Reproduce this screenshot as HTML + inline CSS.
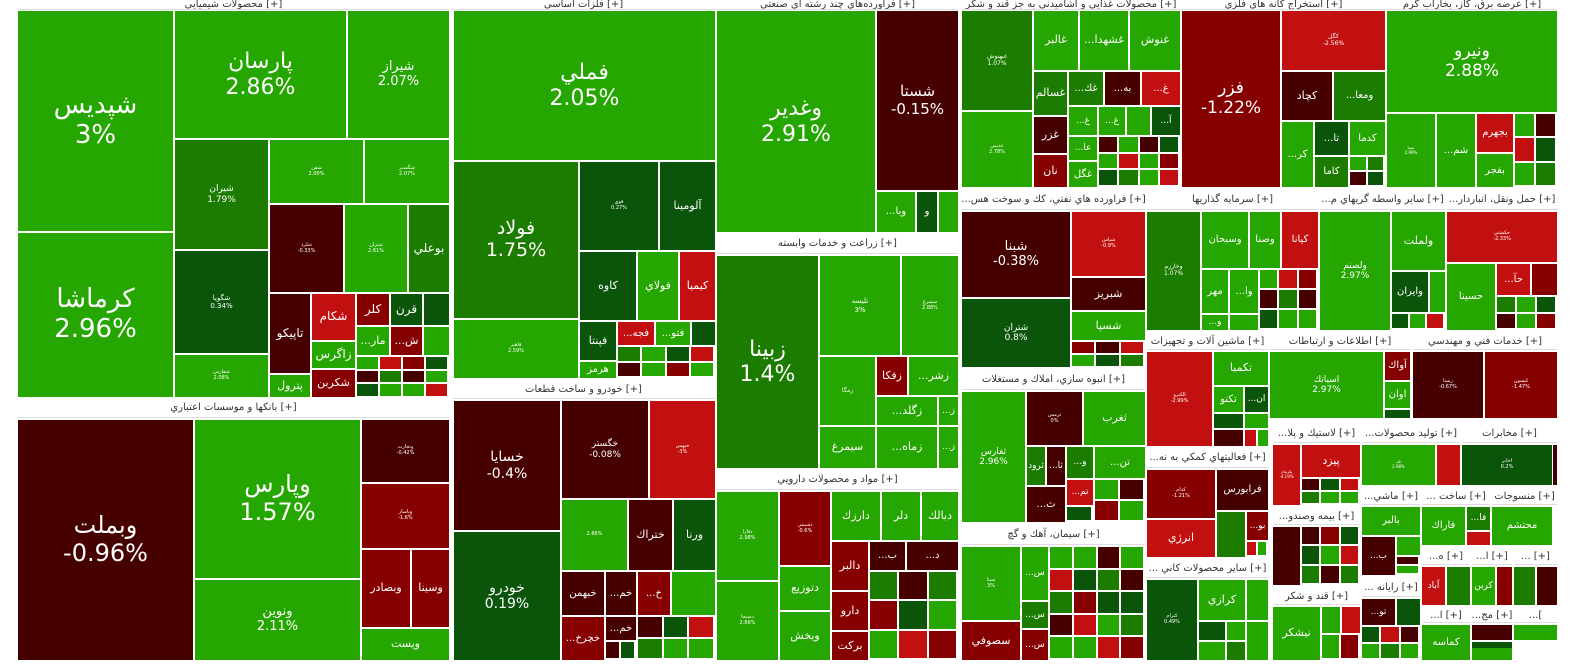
<!DOCTYPE html>
<html><head><meta charset="utf-8">
<style>
html,body{margin:0;padding:0;background:#fff;}
#m{position:relative;width:1577px;height:671px;overflow:hidden;background:#fff;font-family:"DejaVu Sans","Noto Sans CJK SC",sans-serif;}
.t{position:absolute;box-sizing:border-box;color:#fff;display:flex;flex-direction:column;align-items:center;justify-content:center;text-align:center;overflow:hidden;line-height:1.15;white-space:nowrap;}
.h{position:absolute;box-sizing:border-box;background:#fff;color:#333;font-size:10px;display:flex;align-items:center;justify-content:center;overflow:hidden;white-space:nowrap;border-bottom:1px solid #ddd;}
</style></head><body><div id="m"></div>
<script>
var C={G:'#25a600',M:'#1c7c00',D:'#0b550b',K:'#470000',r:'#860000',R:'#c20f0f',L:'#3ee000'};
var m=document.getElementById('m'),H='';
function t(x1,y1,x2,y2,c,l,p,fs){fs=fs||0;var s='<div class="t" style="left:'+x1+'px;top:'+y1+'px;width:'+(x2-x1)+'px;height:'+(y2-y1)+'px;background:'+C[c]+';font-size:'+fs+'px">';if(l)s+='<div>'+l+'</div>';if(p)s+='<div>'+p+'</div>';H+=s+'</div>';}
function h(x1,y1,x2,y2,l){H+='<div class="h" style="left:'+x1+'px;top:'+y1+'px;width:'+(x2-x1)+'px;height:'+(y2-y1)+'px">'+l+'</div>';}
var seq='GKDRMGrKGDGRMKGGDrRGKMDGRGKDMr';var si=0;
function f(x1,y1,x2,y2,cols,rows){var w=(x2-x1)/cols,hh=(y2-y1)/rows;for(var i=0;i<cols;i++)for(var j=0;j<rows;j++){var c=seq[si++%seq.length];t(Math.round(x1+i*w),Math.round(y1+j*hh),Math.round(x1+(i+1)*w)-2,Math.round(y1+(j+1)*hh)-2,c);}}
// headers top
h(18,0,449,10,'محصولات شيميايي [+]');h(452,0,715,10,'فلزات اساسي [+]');h(717,0,958,10,'فرآورده‌هاي چند رشته اي صنعتي [+]');
h(962,0,1180,10,'محصولات غذايي و آشاميدني به جز قند و شكر [+]');h(1182,0,1385,10,'استخراج كانه هاي فلزي [+]');h(1387,0,1557,10,'عرضه برق، گاز، بخاراب گرم [+]');
// chemicals
t(18,11,173,231,'G','شپديس','3%',26);t(18,233,173,397,'G','كرماشا','2.96%',26);
t(175,11,346,138,'G','پارسان','2.86%',22);t(348,11,449,138,'G','شيراز','2.07%',13);
t(175,140,268,249,'M','شيران','1.79%',9);t(175,251,268,353,'D','شگويا','0.34%',7);t(175,355,268,397,'G','شفارس','2.08%',5);
t(270,140,363,203,'G','شفن','2.00%',5);t(365,140,449,203,'G','شگستر','2.07%',5);
t(270,205,343,292,'K','شلرد','-0.33%',5);t(345,205,407,292,'G','شتران','2.61%',5);t(409,205,449,292,'M','بوعلي','',12);
t(270,294,310,373,'K','تاپيكو','',12);t(312,294,355,340,'R','شكام','',12);t(357,294,389,325,'r','كلر','',12);t(391,294,422,325,'D','قرن','',12);t(424,294,449,325,'D');
t(270,375,310,397,'G','پترول','',11);t(312,342,355,368,'G','زاگرس','',12);t(312,370,355,397,'r','شكربن','',11);
t(357,327,389,355,'G','...مار','',11);t(391,327,422,355,'r','...ش','',11);t(424,327,449,355,'G');
f(357,357,449,398,4,3);
h(18,398,449,418,'بانكها و موسسات اعتباري [+]');
t(18,420,193,660,'K','وبملت','-0.96%',24);t(195,420,360,578,'G','وپارس','1.57%',24);t(195,580,360,660,'G','ونوين','2.11%',13);
t(362,420,449,482,'K','وتجارت','-0.42%',5);t(362,484,449,548,'r','وپاسار','-1.6%',5);t(362,550,410,627,'r','وبصادر','',11);t(412,550,449,627,'r','وسينا','',11);t(362,629,449,660,'G','ويست','',11);
// metals
t(454,11,715,160,'G','فملي','2.05%',22);t(454,162,578,318,'M','فولاد','1.75%',19);t(454,320,578,378,'G','فاهنر','2.59%',5);
t(580,162,658,250,'D','فوي','0.27%',5);t(660,162,715,250,'D','آلومينا','',11);
t(580,252,636,320,'D','كاوه','',11);t(638,252,678,320,'G','فولاي','',11);t(680,252,715,320,'R','كيميا','',11);
t(580,322,616,360,'D','فپنتا','',11);t(618,322,654,345,'R','...فجه','',10);t(656,322,690,345,'G','...فتو','',10);t(692,322,715,345,'D');
t(580,362,616,378,'G','هرمز','',10);f(618,347,715,378,4,2);
h(452,380,715,399,'خودرو و ساخت قطعات [+]');
t(454,401,560,530,'K','خسايا','-0.4%',14);t(454,532,560,660,'D','خودرو','0.19%',14);
t(562,401,648,498,'K','خگستر','-0.08%',9);t(650,401,715,498,'R','خبهمن','-3%',5);
t(562,500,627,570,'G','','2.66%',5);t(629,500,672,570,'K','ختراك','',11);t(674,500,715,570,'D','ورنا','',11);
t(562,572,604,615,'K','خبهمن','',10);t(606,572,636,615,'K','...خم','',10);t(638,572,670,615,'r','...خ','',10);t(672,572,715,615,'G');
t(562,617,604,660,'r','...خچرخ','',10);t(606,617,636,640,'K','...خم','',10);f(638,617,715,660,3,2);f(606,642,636,660,2,1);
// col3
t(717,11,875,232,'G','وغدير','2.91%',22);t(877,11,958,190,'K','شستا','-0.15%',15);
t(877,192,915,232,'G','...وبا','',10);t(917,192,937,232,'D','و','',10);t(939,192,958,232,'G');
h(717,234,958,254,'زراعت و خدمات وابسته [+]');
t(717,256,818,468,'M','زبينا','1.4%',22);t(820,256,900,355,'G','تليسه','3%',7);t(902,256,958,355,'G','سيمرغ','2.88%',5);
t(820,357,875,425,'G','زمگا','',6);t(877,357,907,395,'r','زفكا','',11);t(909,357,958,395,'G','...زشر','',11);
t(877,397,937,425,'G','...زگلد','',11);t(939,397,958,425,'G','...ز','',9);
t(820,427,875,468,'G','سيمرغ','',11);t(877,427,937,468,'G','...زماه','',11);t(939,427,958,468,'G','...ز','',9);
h(717,470,958,490,'مواد و محصولات دارويي [+]');
t(717,492,778,580,'G','دفارا','2.98%',5);t(717,582,778,660,'G','دسبحا','2.66%',5);
t(780,492,830,565,'r','دشيمي','-0.6%',5);t(832,492,880,540,'G','دارزك','',11);t(882,492,920,540,'G','دلر','',11);t(922,492,958,540,'G','دبالك','',11);
t(780,567,830,610,'G','دتوزيع','',11);t(780,612,830,660,'G','ويخش','',11);
t(832,542,868,590,'r','دالبر','',11);t(832,592,868,630,'r','دارو','',11);t(832,632,868,660,'r','بركت','',11);
t(870,542,905,570,'K','...ب','',10);t(907,542,958,570,'K','...د','',10);f(870,572,958,660,3,3);
// food
t(962,11,1032,110,'M','غبهنوش','1.07%',6);t(962,112,1032,187,'G','غديس','2.78%',5);
t(1034,11,1078,70,'G','غالبر','',11);t(1080,11,1128,70,'G','...غشهدا','',11);t(1130,11,1180,70,'G','غنوش','',11);
t(1034,72,1067,115,'M','غسالم','',11);t(1034,117,1067,153,'K','غزر','',11);t(1034,155,1067,187,'r','نان','',11);
t(1069,72,1103,105,'M','...غك','',10);t(1105,72,1140,105,'K','...به','',10);t(1142,72,1180,105,'R','...غ','',10);
t(1069,107,1097,135,'G','...غ','',9);t(1099,107,1125,135,'G','...غ','',9);t(1127,107,1150,135,'G');t(1152,107,1180,135,'D','...آ','',9);
t(1069,137,1097,160,'G','...عا','',9);t(1069,162,1097,187,'G','غگل','',10);f(1099,137,1180,187,4,3);
h(1182,0,1385,10,'استخراج كانه هاي فلزي [+]');
t(1182,11,1280,187,'r','فزر','-1.22%',17);t(1282,11,1385,70,'R','كگل','-2.56%',6);
t(1282,72,1332,120,'K','كچاد','',11);t(1334,72,1385,120,'M','...ومعا','',10);
t(1282,122,1313,187,'G','...كر','',10);t(1315,122,1348,155,'D','...تا','',10);t(1350,122,1385,155,'G','كدما','',10);
t(1315,157,1348,187,'M','كاما','',10);f(1350,157,1385,187,2,2);
t(1387,11,1557,112,'G','ونيرو','2.88%',17);t(1387,114,1435,187,'G','بمپنا','2.99%',4);t(1437,114,1475,187,'G','...شم','',10);
t(1477,114,1513,152,'R','بجهرم','',10);t(1477,154,1513,187,'G','بفجر','',10);f(1515,114,1557,187,2,3);
// petroleum
h(962,190,1145,210,'...فراورده هاي نفتي، كك و سوخت هس [+]');
t(962,212,1070,297,'K','شبنا','-0.38%',13);t(962,299,1070,367,'D','شتران','0.8%',9);
t(1072,212,1145,276,'R','شپاس','-0.9%',5);t(1072,278,1145,310,'K','شبريز','',11);t(1072,312,1145,340,'G','شسپا','',11);f(1072,342,1145,368,3,2);
h(962,370,1145,390,'انبوه سازي، املاك و مستغلات [+]');
t(962,392,1025,522,'G','ثفارس','2.96%',9);t(1027,392,1082,445,'K','ثرمس','0%',5);t(1084,392,1145,445,'G','ثغرب','',11);
t(1027,447,1045,485,'M','ثرود','',9);t(1047,447,1065,485,'K','...ثا','',9);t(1067,447,1093,478,'M','...و','',9);t(1095,447,1145,478,'G','...تن','',10);
t(1027,487,1065,522,'K','...ث','',10);t(1067,480,1093,505,'R','...تم','',9);f(1095,480,1145,522,2,2);f(1067,507,1093,522,1,1);
h(962,525,1145,545,'سيمان، آهك و گچ [+]');
t(962,547,1020,620,'G','سيتا','3%',5);t(962,622,1020,660,'r','سصوفي','',11);
t(1022,547,1048,600,'G','...س','',9);t(1022,602,1048,628,'M','...س','',9);t(1022,630,1048,660,'r','...س','',9);
f(1050,547,1145,660,4,5);
// row mid right
h(1147,190,1318,210,'سرمايه گذاريها [+]');
t(1147,212,1200,330,'M','وخارزم','1.07%',6);t(1202,212,1248,268,'G','وسبحان','',10);t(1250,212,1280,268,'G','وصنا','',10);t(1282,212,1318,268,'R','كيانا','',10);
t(1202,270,1228,313,'G','مهر','',10);t(1230,270,1258,313,'G','...وا','',10);f(1260,270,1318,330,3,3);t(1202,315,1228,330,'G','...و','',9);t(1230,315,1258,330,'G');
h(1320,190,1445,210,'...ساير واسطه گريهاي م [+]');
t(1320,212,1390,330,'G','ولصنم','2.97%',9);t(1392,212,1445,270,'G','ولملت','',11);t(1392,272,1428,312,'D','وايران','',10);t(1430,272,1445,312,'G');f(1392,314,1445,330,3,1);
h(1447,190,1557,210,'...حمل ونقل، انباردار [+]');
t(1447,212,1557,262,'R','حكشتي','-2.33%',5);t(1447,264,1495,330,'G','حسينا','',10);t(1497,264,1530,295,'R','...حآ','',10);t(1532,264,1557,295,'r');f(1497,297,1557,330,3,2);
// machinery
h(1147,333,1268,350,'ماشين آلات و تجهيزات [+]');
t(1147,352,1212,446,'R','الكترو','-2.99%',5);t(1214,352,1268,385,'G','تكمبا','',11);t(1214,387,1243,412,'G','تكنو','',10);t(1245,387,1268,412,'D','...ان','',9);
t(1214,414,1243,428,'D');t(1245,414,1268,428,'G');t(1214,430,1243,446,'K');t(1245,430,1256,446,'R');t(1258,430,1268,446,'G');
h(1270,333,1410,350,'اطلاعات و ارتباطات [+]');
t(1270,352,1383,418,'G','اسياتك','2.97%',9);t(1385,352,1410,380,'r','آواك','',10);t(1385,382,1410,408,'G','اوان','',10);t(1385,410,1410,418,'D');
h(1413,333,1557,350,'خدمات فني و مهندسي [+]');
t(1413,352,1483,418,'K','رمپنا','-0.67%',5);t(1485,352,1557,418,'r','كيسون','-1.47%',5);
h(1147,448,1268,468,'...فعاليتهاي كمكي به نه [+]');
t(1147,470,1215,518,'r','كدام','-1.21%',5);t(1147,520,1215,557,'R','انرژي','',11);t(1217,470,1268,510,'K','فرابورس','',10);
t(1217,512,1245,557,'M');t(1247,512,1268,540,'r','...بو','',9);f(1247,542,1268,557,2,1);
h(1147,559,1268,578,'... ساير محصولات كاني [+]');
t(1147,580,1197,660,'D','كترام','0.49%',5);t(1199,580,1245,620,'G','كرازي','',11);t(1247,580,1268,620,'G');
t(1199,622,1225,640,'D');t(1227,622,1245,640,'G');t(1199,642,1225,660,'G');t(1227,642,1245,660,'M');t(1247,622,1268,660,'G');
// right lower
h(1273,425,1360,443,'...لاستيك و پلا [+]');
t(1273,445,1300,505,'R','پكرمان','-4.19%',4);t(1302,445,1360,477,'R','پيزد','',11);f(1302,479,1360,505,3,2);
h(1362,425,1460,443,'...توليد محصولات [+]');t(1362,445,1435,485,'G','تايد','2.98%',4);t(1437,445,1460,485,'R');
h(1462,425,1557,443,'مخابرات [+]');t(1462,445,1552,485,'D','اخابر','0.2%',5);t(1553,445,1557,485,'K');
h(1273,508,1360,525,'...بيمه وصندو [+]');
t(1273,527,1300,585,'K');f(1302,527,1360,585,3,3);
h(1273,588,1360,605,'قند و شكر [+]');
t(1273,607,1320,660,'G','نيشكر','',11);t(1322,607,1340,633,'G');t(1342,607,1360,633,'R');f(1322,635,1360,660,2,1);
h(1362,488,1420,505,'...ماشي [+]');
t(1362,507,1420,535,'G','بالبر','',10);t(1362,537,1395,575,'K','...ب','',9);t(1397,537,1420,555,'G');f(1397,557,1420,575,1,2);
h(1362,578,1420,597,'... رايانه [+]');
t(1362,599,1395,625,'K','...تو','',9);t(1397,599,1420,625,'D');f(1362,627,1420,660,3,2);
h(1422,488,1490,505,'... ساخت [+]');
t(1422,507,1465,545,'G','فاراك','',10);t(1467,507,1490,530,'M','...فا','',9);t(1467,532,1490,545,'R');
h(1422,548,1470,565,'...ه [+]');t(1422,567,1445,605,'R','آباد','',9);t(1447,567,1470,605,'M');
h(1422,608,1470,623,'...ا [+]');t(1422,625,1470,660,'G','كماسه','',10);
h(1492,488,1557,505,'منسوجات [+]');t(1492,507,1552,545,'G','محتشم','',10);
h(1472,548,1512,565,'...ا [+]');t(1472,567,1495,605,'G','كربن','',9);t(1497,567,1512,605,'r');
h(1514,548,1557,565,'... [+]');t(1514,567,1535,605,'M');t(1537,567,1557,605,'K');
h(1472,608,1512,623,'...مج [+]');t(1472,625,1512,640,'K');t(1472,642,1512,660,'D');
h(1514,608,1557,623,'...[');t(1514,625,1557,640,'G');
t(1472,648,1512,660,'G');
m.innerHTML=H;
</script></body></html>
